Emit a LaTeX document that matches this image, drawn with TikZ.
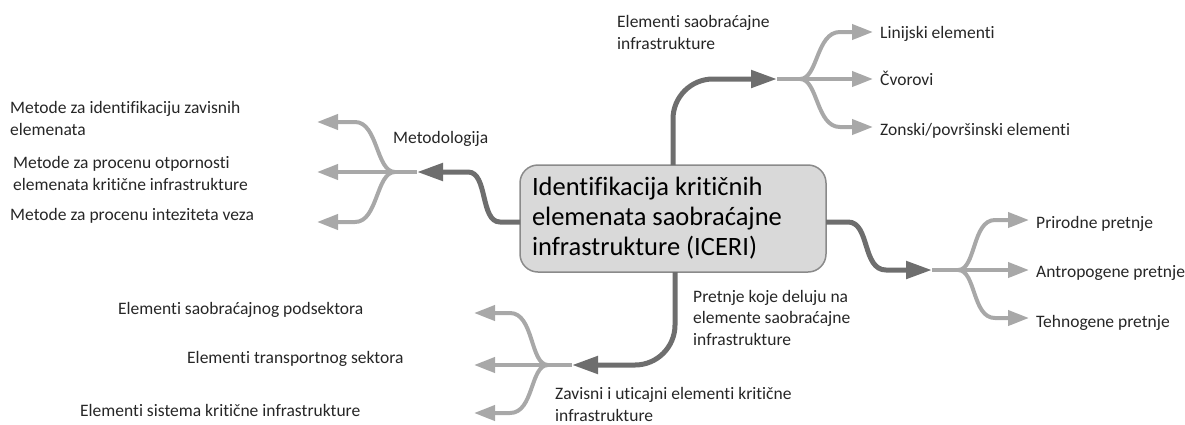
\documentclass[tikz,border=0pt]{standalone}
\usepackage{fontspec}
\setmainfont{Carlito}[Ligatures=NoCommon]
\usetikzlibrary{arrows.meta}
\definecolor{darkc}{HTML}{6E6E6E}
\definecolor{lightc}{HTML}{A8A8A8}
\definecolor{boxfill}{HTML}{D9D9D9}
\definecolor{boxdraw}{HTML}{8A8A8A}
\tikzset{
  mainline/.style={draw=darkc,line width=5pt,rounded corners=40pt,-{Triangle[length=26pt,width=17pt]}},
  subline/.style={draw=lightc,line width=4pt,-{Triangle[length=21pt,width=15pt]}},
  stub/.style={draw=lightc,line width=4pt},
  lbl/.style={inner sep=0pt,anchor=base west,font=\fontsize{17.5}{21.5}\selectfont,text=black!85,align=left},
  centerbox/.style={draw=boxdraw,line width=1.5pt,fill=boxfill,rounded corners=18pt,minimum width=306pt,minimum height=107pt,text width=282pt,align=left,font=\fontsize{26.5}{30}\selectfont,execute at begin node={\spaceskip=6pt\relax},inner sep=0pt}
}
\begin{document}
\begin{tikzpicture}[x=1pt,y=-1pt]
\useasboundingbox (0,0) rectangle (1185,424);
% center
\node[centerbox] (c) at (673,218.5) {Identifikacija kritičnih\\elemenata saobraćajne\\infrastrukture (ICERI)};

% ---- top branch
\coordinate (tstart) at (673,165);
\coordinate (tend) at (777,79);
\coordinate (tfork) at (800,79);
\coordinate (t1) at (873,32);
\coordinate (t2) at (873,79);
\coordinate (t3) at (873,127);
\draw[mainline] (tstart) -- (673,79) -- (tend);
\draw[stub] (tend) -- (tfork);
\draw[subline] (tfork) .. controls (818,79) and (816,32) .. (840,32) -- (t1);
\draw[subline] (tfork) -- (t2);
\draw[subline] (tfork) .. controls (818,79) and (816,127) .. (840,127) -- (t3);
\node[lbl] (tl) at (617,49) {Elementi saobraćajne\\infrastrukture};
\node[lbl] (t1l) at (880,38) {Linijski elementi};
\node[lbl] (t2l) at (880,85) {Čvorovi};
\node[lbl] (t3l) at (880,135) {Zonski/površinski elementi};

% ---- left branch
\coordinate (lstart) at (520,222);
\coordinate (lend) at (417,172);
\coordinate (lfork) at (395,172);
\coordinate (l1) at (317,122);
\coordinate (l2) at (317,172);
\coordinate (l3) at (317,222);
\draw[draw=darkc,line width=5pt,-{Triangle[length=26pt,width=17pt]}] (lstart) -- (500,222) .. controls (480,222) and (488,172) .. (468,172) -- (lend);
\draw[stub] (lend) -- (lfork);
\draw[subline] (lfork) .. controls (376,172) and (378,122) .. (355,122) -- (l1);
\draw[subline] (lfork) -- (l2);
\draw[subline] (lfork) .. controls (376,172) and (378,222) .. (355,222) -- (l3);
\node[lbl] (ll) at (393,143) {Metodologija};
\node[lbl] (l1l) at (10,135) {Metode za identifikaciju zavisnih\\elemenata};
\node[lbl] (l2l) at (13,190) {Metode za procenu otpornosti\\elemenata kritične infrastrukture};
\node[lbl] (l3l) at (10,220) {Metode za procenu inteziteta veza};

% ---- right branch
\coordinate (rstart) at (826,222);
\coordinate (rend) at (932,270);
\coordinate (rfork) at (958,270);
\coordinate (r1) at (1029,220);
\coordinate (r2) at (1029,270);
\coordinate (r3) at (1029,318);
\draw[draw=darkc,line width=5pt,-{Triangle[length=26pt,width=17pt]}] (rstart) -- (848,222) .. controls (870,222) and (862,270) .. (886,270) -- (rend);
\draw[stub] (rend) -- (rfork);
\draw[subline] (rfork) .. controls (976,270) and (972,220) .. (995,220) -- (r1);
\draw[subline] (rfork) -- (r2);
\draw[subline] (rfork) .. controls (976,270) and (972,318) .. (995,318) -- (r3);
\node[lbl] (r1l) at (1036,228) {Prirodne pretnje};
\node[lbl] (r2l) at (1036,277) {Antropogene pretnje};
\node[lbl] (r3l) at (1036,327) {Tehnogene pretnje};

% ---- bottom branch
\coordinate (bstart) at (675,272);
\coordinate (bend) at (572,365);
\coordinate (bfork) at (548,365);
\coordinate (b1) at (474,313);
\coordinate (b2) at (474,365);
\coordinate (b3) at (474,413);
\draw[mainline] (bstart) -- (675,365) -- (bend);
\draw[stub] (bend) -- (bfork);
\draw[subline] (bfork) .. controls (530,365) and (534,313) .. (510,313) -- (b1);
\draw[subline] (bfork) -- (b2);
\draw[subline] (bfork) .. controls (530,365) and (534,413) .. (510,413) -- (b3);
\node[lbl] (bl) at (693,345) {Pretnje koje deluju na\\elemente saobraćajne\\infrastrukture};
\node[lbl] (bl2) at (555,421) {Zavisni i uticajni elementi kritične\\infrastrukture};
\node[lbl] (b1l) at (118,314) {Elementi saobraćajnog podsektora};
\node[lbl] (b2l) at (187,363) {Elementi transportnog sektora};
\node[lbl] (b3l) at (80,416) {Elementi sistema kritične infrastrukture};
\end{tikzpicture}
\end{document}
